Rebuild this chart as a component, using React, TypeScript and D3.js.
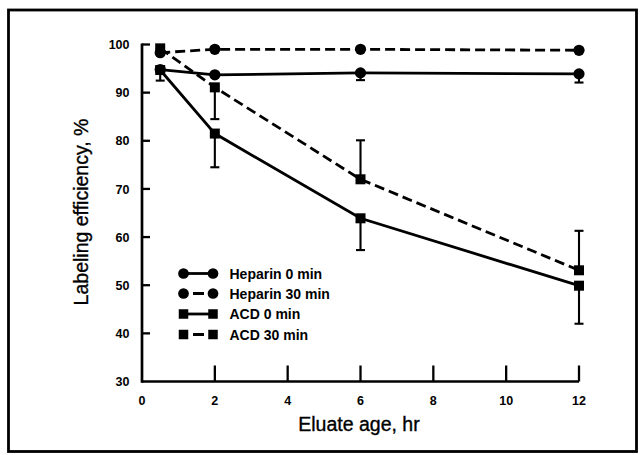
import React from "react";
import * as d3 from "d3";

const hours = [0.5, 2, 6, 12];
const heparin0 = [94.8, 93.7, 94.1, 93.9];
const heparin30 = [98.3, 99.0, 99.0, 98.8];
const acd0 = [94.7, 81.5, 63.9, 49.9];
const acd30 = [99.2, 91.1, 72.0, 53.1];
// error bar tip values (one-sided), null = none drawn
const heparin0Err: (number | null)[] = [92.5, null, 92.6, 92.1];
const heparin30Err: (number | null)[] = [null, null, null, null];
const acd0Err: (number | null)[] = [null, 74.5, 57.3, 42.0];
const acd30Err: (number | null)[] = [null, 84.5, 80.1, 61.3];

const xTicks = [0, 2, 4, 6, 8, 10, 12];
const yTicks = [30, 40, 50, 60, 70, 80, 90, 100];
const seriesNames = ["Heparin 0 min", "Heparin 30 min", "ACD 0 min", "ACD 30 min"];
const xTitle = "Eluate age, hr";
const yTitle = "Labeling efficiency, %";

const W = 642;
const H = 455;
const FONT = "'Liberation Sans', Arial, Helvetica, sans-serif";

type Series = {
  name: string;
  values: number[];
  err: (number | null)[];
  dashed: boolean;
  marker: "circle" | "square";
};

const series: Series[] = [
  { name: seriesNames[0], values: heparin0, err: heparin0Err, dashed: false, marker: "circle" },
  { name: seriesNames[1], values: heparin30, err: heparin30Err, dashed: true, marker: "circle" },
  { name: seriesNames[2], values: acd0, err: acd0Err, dashed: false, marker: "square" },
  { name: seriesNames[3], values: acd30, err: acd30Err, dashed: true, marker: "square" },
];

function Marker({ type, cx, cy, size }: { type: "circle" | "square"; cx: number; cy: number; size: number }) {
  if (type === "circle") return <circle cx={cx} cy={cy} r={size / 2 + 0.6} fill="#000" />;
  return <rect x={cx - size / 2} y={cy - size / 2} width={size} height={size} fill="#000" />;
}

export default function App() {
  const x = d3.scaleLinear().domain([0, 12]).range([142, 579]);
  const y = d3.scaleLinear().domain([30, 100]).range([381.5, 44.5]);
  const line = d3
    .line<number>()
    .x((_, i) => x(hours[i]))
    .y((d) => y(d));

  const legendRows = [273.5, 293.5, 314, 334.5];

  return (
    <svg
      width={W}
      height={H}
      style={{ position: "absolute", left: 0, top: 0, background: "#fff" }}
      fontFamily={FONT}
    >
      <rect x={0} y={0} width={W} height={H} fill="#fff" />
      <rect x={8.5} y={10} width={628} height={441.5} fill="none" stroke="#000" strokeWidth={2.8} />

      {/* axes */}
      <line x1={x(0)} x2={x(12)} y1={y(30)} y2={y(30)} stroke="#000" strokeWidth={2.7} />
      <line x1={x(0)} x2={x(0)} y1={y(30) + 1.3} y2={y(100) - 1} stroke="#000" strokeWidth={2.7} />
      {yTicks.map((t) => (
        <g key={"y" + t}>
          {t > 30 && <line x1={x(0)} x2={x(0) + 8} y1={y(t)} y2={y(t)} stroke="#000" strokeWidth={2.3} />}
          <text x={x(0) - 12.5} y={y(t) + 4.6} textAnchor="end" fontSize={12.5} fontWeight="bold">
            {t}
          </text>
        </g>
      ))}
      {xTicks.map((t) => (
        <g key={"x" + t}>
          {t > 0 && <line x1={x(t)} x2={x(t)} y1={y(30)} y2={y(30) - 16} stroke="#000" strokeWidth={2.3} />}
          <text x={x(t)} y={404.5} textAnchor="middle" fontSize={12.5} fontWeight="bold">
            {t}
          </text>
        </g>
      ))}
      <text x={359} y={431} textAnchor="middle" fontSize={19.5} stroke="#000" strokeWidth={0.35}>
        {xTitle}
      </text>
      <text
        transform={`translate(87.5,212) rotate(-90)`}
        textAnchor="middle"
        fontSize={19.5}
        stroke="#000"
        strokeWidth={0.35}
      >
        {yTitle}
      </text>

      {/* error bars */}
      {series.map((s) =>
        s.err.map((e, i) =>
          e == null ? null : (
            <g key={s.name + "e" + i}>
              <line x1={x(hours[i])} x2={x(hours[i])} y1={y(s.values[i])} y2={y(e)} stroke="#000" strokeWidth={2.1} />
              <line x1={x(hours[i]) - 4.5} x2={x(hours[i]) + 4.5} y1={y(e)} y2={y(e)} stroke="#000" strokeWidth={2.1} />
            </g>
          )
        )
      )}

      {/* lines */}
      {series.map((s) => (
        <path
          key={s.name + "l"}
          d={line(s.values) || ""}
          fill="none"
          stroke="#000"
          strokeWidth={2.8}
          strokeDasharray={s.dashed ? "10,5" : undefined}
        />
      ))}
      {/* markers */}
      {series.map((s) =>
        s.values.map((v, i) => (
          <Marker key={s.name + "m" + i} type={s.marker} cx={x(hours[i])} cy={y(v)} size={10} />
        ))
      )}

      {/* legend */}
      {series.map((s, i) => {
        const cy = legendRows[i];
        return (
          <g key={s.name + "leg"}>
            <line
              x1={183.5}
              x2={213}
              y1={cy}
              y2={cy}
              stroke="#000"
              strokeWidth={2.8}
              strokeDasharray={s.dashed ? "0,9.5,11,50" : undefined}
            />
            <Marker type={s.marker} cx={183.5} cy={cy} size={9.5} />
            <Marker type={s.marker} cx={213} cy={cy} size={9.5} />
            <text x={229.5} y={cy + 5} fontSize={14} fontWeight="bold">
              {s.name}
            </text>
          </g>
        );
      })}
    </svg>
  );
}
